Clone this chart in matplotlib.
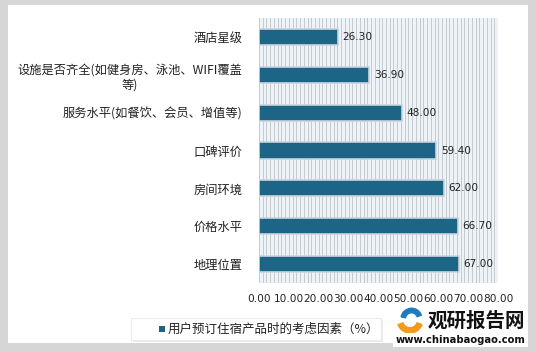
import numpy as np
import matplotlib
matplotlib.use('Agg')
import matplotlib.pyplot as plt
from matplotlib.patches import Rectangle, Wedge

plt.rcParams['font.family'] = ['Noto Sans CJK SC', 'DejaVu Sans']

# 数据
categories = ['酒店星级', '设施是否齐全(如健身房、泳池、WIFI覆盖\n等)', '服务水平(如餐饮、会员、增值等)',
              '口碑评价', '房间环境', '价格水平', '地理位置']
values = [26.30, 36.90, 48.00, 59.40, 62.00, 66.70, 67.00]
xticks = [0, 10, 20, 30, 40, 50, 60, 70, 80]
legend_label = '用户预订住宿产品时的考虑因素（%）'

bar_color = '#1c6586'

fig = plt.figure(figsize=(5.36, 3.51), dpi=100)
fig.patch.set_facecolor('#d6d6d6')
# 白色面板
fig.patches.append(Rectangle((8 / 536, 8 / 351), 520 / 536, 338 / 351, transform=fig.transFigure,
                             facecolor='white', edgecolor='none', zorder=-5))

ax = fig.add_axes([259 / 536, 1 - 283 / 351, 239 / 536, 265 / 351])
ax.set_facecolor('#eef3f8')
y = np.arange(len(categories))
ax.barh(y, values, height=0.43, color=bar_color, edgecolor='#c9d3dc', linewidth=1.2, zorder=3)
ax.set_ylim(len(categories) - 0.5, -0.5)
ax.set_xlim(0, 80)
ax.set_xticks(xticks)
ax.set_xticklabels(['%.2f' % v for v in xticks], fontsize=7.6, family=['DejaVu Sans'], color='#222222')
ax.set_xticks(np.arange(0, 80, 1.25), minor=True)
ax.grid(which='minor', axis='x', color='#bfc4c9', linewidth=0.6, zorder=1)
ax.grid(which='major', axis='x', color='#bfc4c9', linewidth=0.6, zorder=1)
ax.tick_params(axis='x', which='both', length=0, pad=8)
ax.set_yticks(y)
ax.set_yticklabels(categories, fontsize=8.8, multialignment='center', color='#222222')
ax.tick_params(axis='y', length=0, pad=12)
for s in ax.spines.values():
    s.set_visible(False)

for yi, v in zip(y, values):
    ax.text(v + 1.5, yi, '%.2f' % v, va='center', ha='left', fontsize=7.6,
            family=['DejaVu Sans'], color='#222222', zorder=4)

# 图例
fig.patches.append(Rectangle((133 / 536, 1 - 342 / 351), 250 / 536, 22 / 351, transform=fig.transFigure,
                             facecolor='#e9e9e9', edgecolor='none', zorder=1))
fig.patches.append(Rectangle((131 / 536, 1 - 340 / 351), 250 / 536, 22 / 351, transform=fig.transFigure,
                             facecolor='white', edgecolor='#ececec', linewidth=0.8, zorder=2))
fig.patches.append(Rectangle((159 / 536, 1 - 332 / 351), 6 / 536, 6 / 351, transform=fig.transFigure,
                             facecolor=bar_color, edgecolor='none', zorder=3))
fig.text(168 / 536, 1 - 329 / 351, legend_label, fontsize=9, va='center', ha='left', color='#222222')

# 水印
lax = fig.add_axes([395 / 536, 1 - 336 / 351, 30 / 536, 30 / 351])
lax.set_xlim(-1, 1)
lax.set_ylim(-1, 1)
lax.set_aspect('equal')
lax.axis('off')
lax.add_patch(Wedge((0, 0.05), 0.85, 200, 340, width=0.35, color='#f39a1d'))
lax.add_patch(Wedge((0.1, 0.15), 0.7, 20, 170, width=0.3, color='#1f7bbd'))
fig.patches.append(Rectangle((393 / 536, 1 - 347 / 351), 135 / 536, 14 / 351, transform=fig.transFigure,
                             facecolor='white', edgecolor='none', zorder=4))
fig.text(428 / 536, 1 - 321 / 351, '观研报告网', fontsize=14, fontweight='bold', va='center', ha='left', color='#111111')
fig.text(396 / 536, 1 - 340 / 351, 'www.chinabaogao.com', fontsize=7.2, fontweight='bold', va='center',
         ha='left', color='#111111', family=['DejaVu Sans'], zorder=5)

fig.savefig('out.png', dpi=100, facecolor=fig.get_facecolor())
